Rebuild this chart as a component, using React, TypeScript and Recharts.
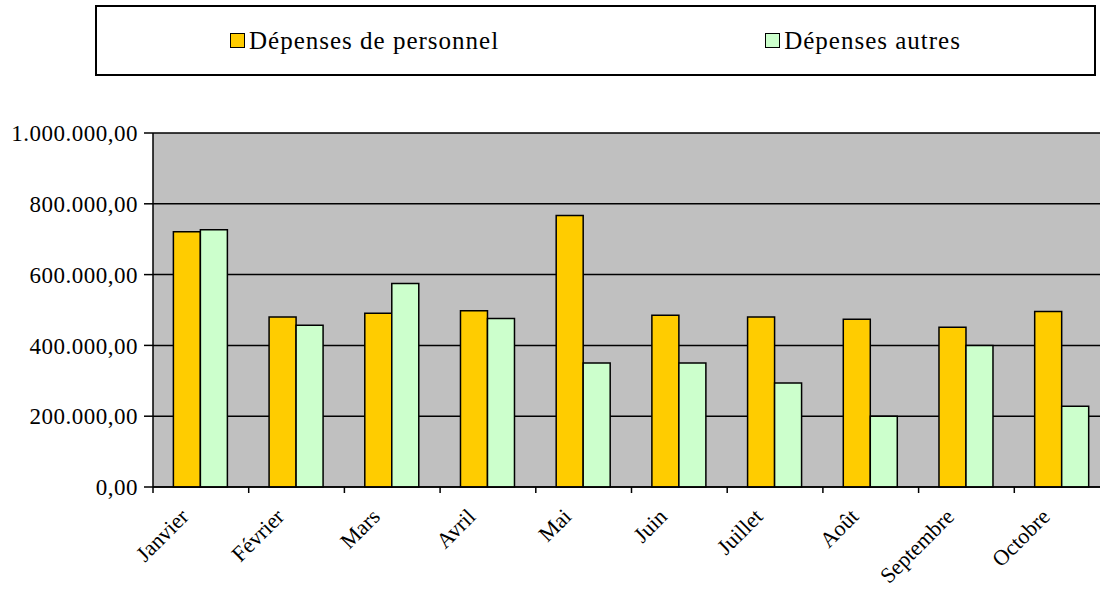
import { Bar, BarChart, CartesianGrid, XAxis, YAxis } from 'recharts';

const MONTHS = ['Janvier', 'Février', 'Mars', 'Avril', 'Mai', 'Juin', 'Juillet', 'Août', 'Septembre', 'Octobre'];
const PERSONNEL = [721000, 480000, 491000, 498000, 767000, 485000, 480000, 474000, 451000, 496000];
const AUTRES = [727000, 457000, 575000, 476000, 350000, 350000, 294000, 200000, 400000, 228000];
const Y_TICKS = [0, 200000, 400000, 600000, 800000, 1000000];

const SERIES = [
    { key: 'personnel', name: 'Dépenses de personnel', color: '#FFCC00' },
    { key: 'autres', name: 'Dépenses autres', color: '#CCFFCC' },
];

const FONT = '"Liberation Serif", "Times New Roman", serif';
const CHART_W = 1120;
const CHART_H = 590;
const Y_AXIS_W = 153;
const MARGIN_RIGHT = 10;
// width of one month band, used only for the boundary tick marks
const BAND = (CHART_W - Y_AXIS_W - MARGIN_RIGHT) / MONTHS.length;

const data = MONTHS.map((month, i) => ({ month, personnel: PERSONNEL[i], autres: AUTRES[i] }));

function formatEuro(v: number) {
    const s = Math.round(v).toString().replace(/\B(?=(\d{3})+(?!\d))/g, '.');
    return `${s},00`;
}

function MonthTick(props: any) {
    const { x, y, payload, index } = props;
    const right = x + BAND / 2;
    const left = x - BAND / 2;
    const ax = x - 11;
    const ay = y + 31;
    return (
        <g>
            {index === 0 ? <line x1={left} y1={y} x2={left} y2={y + 6} stroke="#000" strokeWidth={1.5} /> : null}
            <line x1={right} y1={y} x2={right} y2={y + 6} stroke="#000" strokeWidth={1.5} />
            <text
                x={ax}
                y={ay}
                transform={`rotate(-45 ${ax} ${ay})`}
                textAnchor="end"
                fontFamily={FONT}
                fontSize={22}
                fill="#000"
            >
                {payload.value}
            </text>
        </g>
    );
}

function ChartLegend() {
    return (
        <div
            style={{
                position: 'absolute',
                left: 95,
                top: 5,
                width: 997,
                height: 67,
                border: '2px solid #000',
                display: 'flex',
                alignItems: 'center',
                justifyContent: 'space-around',
                fontFamily: FONT,
                fontSize: 25,
                letterSpacing: 1,
                background: '#fff',
            }}
        >
            {SERIES.map((s) => (
                <span key={s.key} style={{ display: 'flex', alignItems: 'center' }}>
                    <span
                        style={{
                            width: 13,
                            height: 13,
                            background: s.color,
                            border: '1.5px solid #000',
                            marginRight: 4,
                            display: 'inline-block',
                        }}
                    />
                    {s.name}
                </span>
            ))}
        </div>
    );
}

export default function App() {
    return (
        <div
            style={{
                position: 'fixed',
                left: 0,
                top: 0,
                width: 1100,
                height: 590,
                overflow: 'hidden',
                background: '#fff',
            }}
        >
            <ChartLegend />
            <BarChart
                width={CHART_W}
                height={CHART_H}
                data={data}
                margin={{ top: 133, right: MARGIN_RIGHT, left: 0, bottom: 0 }}
                barGap={0}
                barCategoryGap="21.3%"
            >
                <CartesianGrid vertical={false} stroke="#000" strokeWidth={1.5} fill="#C0C0C0" fillOpacity={1} />
                <XAxis
                    dataKey="month"
                    height={103}
                    tickSize={0}
                    tickMargin={0}
                    tickLine={false}
                    axisLine={{ stroke: '#000', strokeWidth: 1.5 }}
                    tick={<MonthTick />}
                    interval={0}
                />
                <YAxis
                    width={Y_AXIS_W}
                    domain={[0, 1000000]}
                    ticks={Y_TICKS}
                    tickFormatter={formatEuro}
                    tickSize={9}
                    tickMargin={6}
                    axisLine={{ stroke: '#000', strokeWidth: 1.5 }}
                    tickLine={{ stroke: '#000', strokeWidth: 1.5 }}
                    tick={{ fill: '#000', fontFamily: FONT, fontSize: 23, letterSpacing: 0.5 }}
                />
                {SERIES.map((s) => (
                    <Bar
                        key={s.key}
                        dataKey={s.key}
                        name={s.name}
                        fill={s.color}
                        stroke="#000"
                        strokeWidth={1.5}
                        isAnimationActive={false}
                    />
                ))}
            </BarChart>
        </div>
    );
}
